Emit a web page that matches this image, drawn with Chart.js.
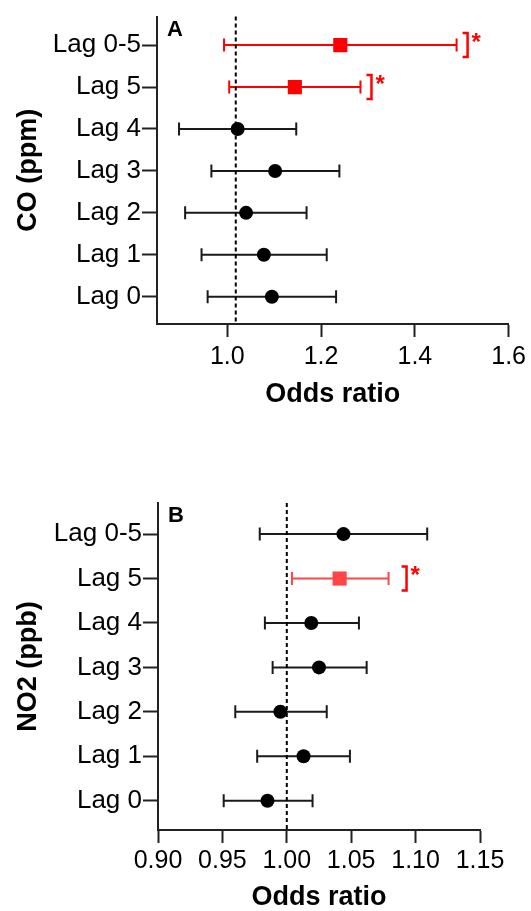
<!DOCTYPE html>
<html>
<head>
<meta charset="utf-8">
<title>Odds ratios by lag</title>
<script src="https://cdn.jsdelivr.net/npm/chart.js@4"></script>
<style>
    html, body { margin: 0; padding: 0; background: #fff; overflow: hidden; }
    #wrap { position: relative; width: 531px; height: 911px; }
    .panel { position: absolute; left: 0; }
</style>
</head>
<body>
<div id="wrap">
    <canvas id="chart-a" class="panel" style="top:0" width="531" height="420"></canvas>
    <canvas id="chart-b" class="panel" style="top:470px" width="531" height="460"></canvas>
</div>
<script>
// Rows from bottom (index 0) to top (index 6)
const lagLabels = ['Lag 0', 'Lag 1', 'Lag 2', 'Lag 3', 'Lag 4', 'Lag 5', 'Lag 0-5'];

// Panel A - CO (ppm)
const coOR    = [1.095, 1.078, 1.040, 1.102, 1.022, 1.144, 1.241];
const coLower = [0.958, 0.945, 0.910, 0.966, 0.897, 1.004, 0.993];
const coUpper = [1.232, 1.212, 1.169, 1.239, 1.147, 1.284, 1.489];
const coSig   = [false, false, false, false, false, true, true];
const coTicks = [1.0, 1.2, 1.4, 1.6];
const coRef = 1.018;

// Panel B - NO2 (ppb)
const no2OR    = [0.985, 1.013, 0.995, 1.025, 1.019, 1.041, 1.044];
const no2Lower = [0.951, 0.977, 0.960, 0.989, 0.983, 1.004, 0.979];
const no2Upper = [1.020, 1.049, 1.031, 1.062, 1.056, 1.079, 1.109];
const no2Sig   = [false, false, false, false, false, true, false];
const no2Ticks = [0.90, 0.95, 1.00, 1.05, 1.10, 1.15];
const no2Ref = 1.00;

const FONT = "'Liberation Sans', Arial, Helvetica, sans-serif";
const AXIS_COLOR = '#222';

// error bars, reference line, significance brackets and panel letter
const forestPlugin = {
    id: 'forest',
    beforeDatasetsDraw(chart, args, opts) {
        const { ctx, chartArea, scales: { x, y } } = chart;
        ctx.save();
        ctx.lineWidth = 2;
        opts.lower.forEach((lo, i) => {
            const py = y.getPixelForValue(i);
            const x1 = x.getPixelForValue(lo);
            const x2 = x.getPixelForValue(opts.upper[i]);
            ctx.strokeStyle = opts.sig[i] ? opts.sigColor : '#1a1a1a';
            ctx.beginPath();
            ctx.moveTo(x1, py); ctx.lineTo(x2, py);
            ctx.moveTo(x1, py - 6.5); ctx.lineTo(x1, py + 6.5);
            ctx.moveTo(x2, py - 6.5); ctx.lineTo(x2, py + 6.5);
            ctx.stroke();
        });
        // dashed reference line
        const rx = x.getPixelForValue(opts.ref);
        ctx.strokeStyle = '#000';
        ctx.setLineDash([4, 3]);
        ctx.beginPath();
        ctx.moveTo(rx, chartArea.top);
        ctx.lineTo(rx, chartArea.bottom);
        ctx.stroke();
        ctx.restore();
    },
    afterDatasetsDraw(chart, args, opts) {
        const { ctx, chartArea, scales: { x, y } } = chart;
        ctx.save();
        opts.sig.forEach((s, i) => {
            if (!s) return;
            const py = y.getPixelForValue(i);
            const bx = x.getPixelForValue(opts.upper[i]) + opts.gap;
            ctx.strokeStyle = '#ff0000';
            ctx.lineWidth = 2.5;
            ctx.beginPath();
            ctx.moveTo(bx, py - 12);
            ctx.lineTo(bx + 5, py - 12);
            ctx.lineTo(bx + 5, py + 12);
            ctx.lineTo(bx, py + 12);
            ctx.stroke();
            ctx.fillStyle = '#ff0000';
            ctx.font = 'bold 24px ' + FONT;
            ctx.textAlign = 'left';
            ctx.textBaseline = 'top';
            ctx.fillText('*', bx + 9, py - 14);
        });
        ctx.fillStyle = '#000';
        ctx.font = 'bold 22px ' + FONT;
        ctx.textAlign = 'left';
        ctx.textBaseline = 'top';
        ctx.fillText(opts.letter, chartArea.left + 10, chartArea.top + 2);
        ctx.restore();
    }
};

function makeForest(id, p) {
    const ctx = document.getElementById(id).getContext('2d');
    return new Chart(ctx, {
        type: 'scatter',
        data: {
            datasets: [{
                data: p.or.map((v, i) => ({ x: v, y: i })),
                pointStyle: p.sig.map(s => s ? 'rect' : 'circle'),
                pointRadius: p.sig.map(s => s ? 10 : 7),
                backgroundColor: p.sig.map(s => s ? p.sigColor : '#000'),
                borderColor: p.sig.map(s => s ? p.sigColor : '#000'),
                borderWidth: 0
            }]
        },
        options: {
            responsive: false,
            animation: false,
            layout: { padding: p.padding },
            plugins: {
                legend: { display: false },
                tooltip: { enabled: false },
                forest: {
                    lower: p.lower, upper: p.upper, sig: p.sig,
                    sigColor: p.sigColor, ref: p.ref, gap: p.gap, letter: p.letter
                }
            },
            scales: {
                x: {
                    type: 'linear',
                    min: p.xMin,
                    max: p.xMax,
                    afterBuildTicks: axis => { axis.ticks = p.ticks.map(v => ({ value: v })); },
                    afterFit: axis => { axis.height = p.xAxisHeight; },
                    ticks: {
                        color: '#000',
                        font: { family: FONT, size: 25 },
                        padding: p.xTickPad,
                        maxRotation: 0,
                        callback: v => v.toFixed(p.decimals)
                    },
                    grid: { display: true, drawOnChartArea: false, drawTicks: true, tickLength: 13, tickWidth: 2, color: AXIS_COLOR },
                    border: { display: true, color: AXIS_COLOR, width: 2 },
                    title: {
                        display: true,
                        text: 'Odds ratio',
                        color: '#000',
                        font: { family: FONT, size: 27, weight: 'bold' },
                        padding: { top: 0, bottom: p.xTitlePad }
                    }
                },
                y: {
                    type: 'linear',
                    min: p.yMin,
                    max: p.yMax,
                    afterBuildTicks: axis => { axis.ticks = lagLabels.map((l, i) => ({ value: i })); },
                    afterFit: axis => { axis.width = p.yAxisWidth; },
                    ticks: {
                        color: '#000',
                        font: { family: FONT, size: 26 },
                        padding: 1,
                        callback: v => lagLabels[v]
                    },
                    grid: { display: true, drawOnChartArea: false, drawTicks: true, tickLength: 15, tickWidth: 2, color: AXIS_COLOR },
                    border: { display: true, color: AXIS_COLOR, width: 2 },
                    title: {
                        display: true,
                        text: p.yTitle,
                        color: '#000',
                        font: { family: FONT, size: 27, weight: 'bold' },
                        padding: { top: 12, bottom: 0 }
                    }
                }
            }
        },
        plugins: [forestPlugin]
    });
}

makeForest('chart-a', {
    or: coOR, lower: coLower, upper: coUpper, sig: coSig, ticks: coTicks, ref: coRef,
    sigColor: '#ff0000', gap: 6, letter: 'A', yTitle: 'CO (ppm)', decimals: 1,
    xMin: 0.85, xMax: 1.6, yMin: -0.65, yMax: 6.68,
    padding: { left: 0, right: 20, top: 16, bottom: 0 },
    yAxisWidth: 157, xAxisHeight: 96, xTickPad: 5, xTitlePad: 9
});

makeForest('chart-b', {
    or: no2OR, lower: no2Lower, upper: no2Upper, sig: no2Sig, ticks: no2Ticks, ref: no2Ref,
    sigColor: '#ff4545', gap: 13, letter: 'B', yTitle: 'NO2 (ppb)', decimals: 2,
    xMin: 0.90, xMax: 1.15, yMin: -0.66, yMax: 6.70,
    padding: { left: 0, right: 51, top: 33, bottom: 0 },
    yAxisWidth: 158, xAxisHeight: 100, xTickPad: 3, xTitlePad: 16
});
</script>
</body>
</html>
